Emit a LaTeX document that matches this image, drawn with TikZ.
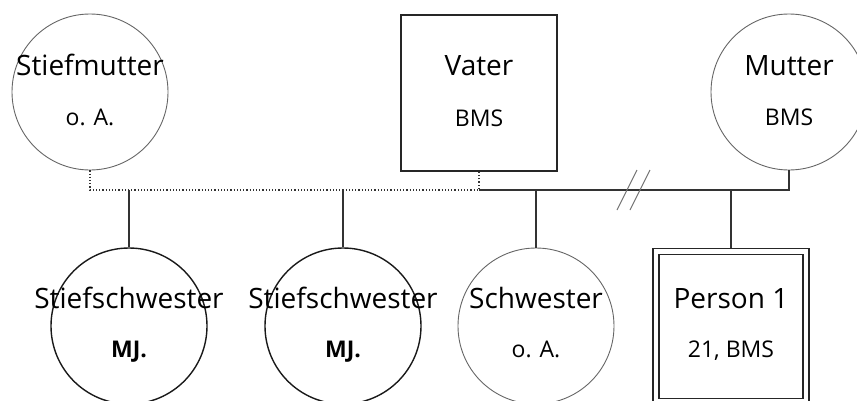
\documentclass[tikz,border=0pt]{standalone}
\usepackage{fontspec}
\setmainfont{Open Sans}
\usetikzlibrary{positioning}

\tikzset{
  mann/.style={rectangle, draw=black!85, line width=1.3pt, minimum size=156pt, inner sep=0pt},
  frau/.style={circle, draw=black!60, line width=0.9pt, minimum size=156pt, inner sep=0pt},
  frau kind/.style={frau, draw=black!90, line width=1.4pt},
  indexperson/.style={mann, double, double distance=4.7pt, minimum size=150pt},
  nametext/.style={font=\fontsize{28}{34}\selectfont, anchor=base, inner sep=0pt},
  infotext/.style={font=\fontsize{23}{28}\selectfont, anchor=base, inner sep=0pt},
  rel/.style={draw=black!80, line width=1.2pt},
  steprel/.style={rel, dotted, line width=1.5pt},
  trenn/.style={draw=black!55, line width=1pt}
}

\begin{document}
\begin{tikzpicture}[x=1pt, y=-1pt]
    \useasboundingbox (0,0) rectangle (857,400);

    % Eltern
    \node[frau] (stiefmutter) at (90,92) {};
    \node[mann] (vater) at (479,93) {};
    \node[frau] (mutter) at (789,92) {};

    % Kinder
    \node[frau kind] (stiefschwester1) at (129,326) {};
    \node[frau kind] (stiefschwester2) at (343,326) {};
    \node[frau] (schwester) at (536,326) {};
    \node[indexperson] (person) at (731,326.5) {};

    % Beschriftung
    \node[nametext] (stiefmutter-name) at ([yshift=17pt]stiefmutter.center) {Stiefmutter};
    \node[infotext] (stiefmutter-info) at ([yshift=-33pt]stiefmutter.center) {o. A.};
    \node[nametext] (vater-name) at ([yshift=18pt]vater.center) {Vater};
    \node[infotext] (vater-info) at ([yshift=-33pt]vater.center) {BMS};
    \node[nametext] (mutter-name) at ([yshift=17pt]mutter.center) {Mutter};
    \node[infotext] (mutter-info) at ([yshift=-33pt]mutter.center) {BMS};
    \node[nametext] (stiefschwester1-name) at ([yshift=18pt]stiefschwester1.center) {Stiefschwester};
    \node[infotext] (stiefschwester1-info) at ([yshift=-31pt]stiefschwester1.center) {\bfseries MJ.};
    \node[nametext] (stiefschwester2-name) at ([yshift=18pt]stiefschwester2.center) {Stiefschwester};
    \node[infotext] (stiefschwester2-info) at ([yshift=-31pt]stiefschwester2.center) {\bfseries MJ.};
    \node[nametext] (schwester-name) at ([yshift=18pt]schwester.center) {Schwester};
    \node[infotext] (schwester-info) at ([yshift=-31pt]schwester.center) {o. A.};
    \node[nametext] (person-name) at ([yshift=18pt]person.center) {Person 1};
    \node[infotext] (person-info) at ([yshift=-31pt]person.center) {21, BMS};

    % Beziehungen
    \coordinate (bar) at (0,190);
    \draw[steprel] (stiefmutter.south) -- (stiefmutter.south |- bar) -- (vater.south |- bar) -- (vater.south);
    \draw[rel] (vater.south |- bar) -- (mutter.south |- bar) -- (mutter.south);
    \draw[trenn] (617,210) -- (637,170) (630,210) -- (650,170);
    \draw[rel] (stiefschwester1.north |- bar) -- (stiefschwester1.north);
    \draw[rel] (stiefschwester2.north |- bar) -- (stiefschwester2.north);
    \draw[rel] (schwester.north |- bar) -- (schwester.north);
    \draw[rel] (person.north |- bar) -- ([yshift=3pt]person.north);
  \end{tikzpicture}
\end{document}
